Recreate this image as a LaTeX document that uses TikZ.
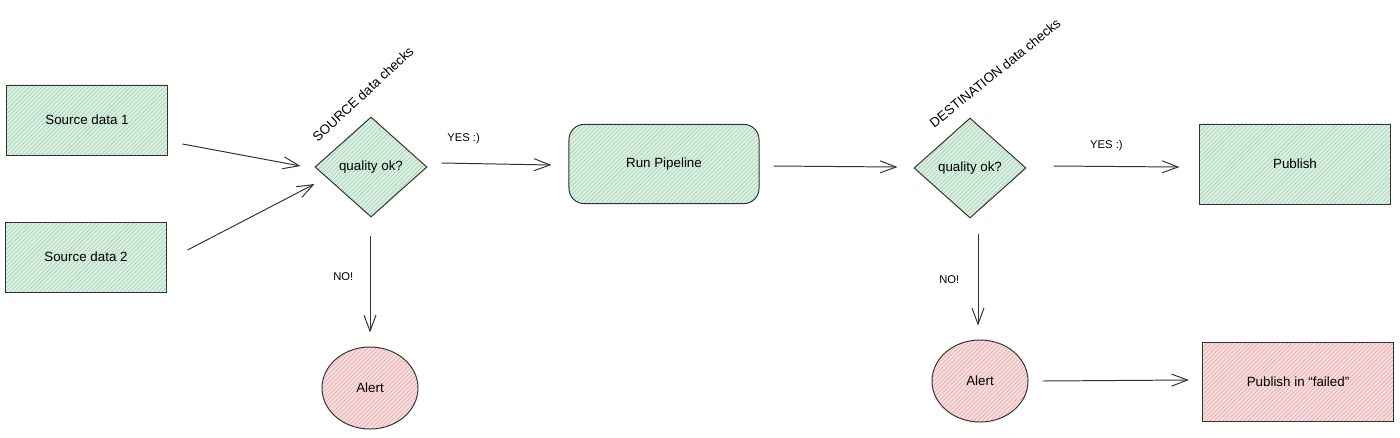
\documentclass[tikz,border=0pt]{standalone}
\usepackage{fontspec}
\setmainfont{Liberation Sans}
\usepackage{xcolor}
\usepackage{tikz}
\usetikzlibrary{arrows.meta,positioning,calc,shapes.geometric,patterns}

\definecolor{okfill}{HTML}{DCEFE3}
\definecolor{okline}{HTML}{A3D3B3}
\definecolor{badfill}{HTML}{F7DEDE}
\definecolor{badline}{HTML}{E9A8A8}

\begin{document}
\begin{tikzpicture}[x=0.025cm,y=-0.025cm,
  okbox/.style={rectangle,draw=black!80,line width=0.7pt,
    preaction={fill=okfill},
    preaction={pattern=north east lines,pattern color=okline},
    minimum width=4cm,minimum height=1.75cm,font=\fontsize{9.5}{11}\selectfont},
  badbox/.style={rectangle,draw=black!80,line width=0.7pt,
    preaction={fill=badfill},
    preaction={pattern=north east lines,pattern color=badline},
    minimum width=4cm,minimum height=1.75cm,font=\fontsize{9.5}{11}\selectfont},
  check/.style={okbox,diamond,inner sep=0pt,minimum width=2.8cm,minimum height=2.5cm},
  alertnode/.style={badbox,ellipse,minimum width=2.4cm,minimum height=2.05cm},
  flow/.style={-{Straight Barb[length=4mm,width=3mm]},line width=0.7pt,draw=black!80},
  lab/.style={font=\fontsize{8}{10}\selectfont,inner sep=1pt},
  tilt/.style={font=\fontsize{9.5}{11}\selectfont,inner sep=0pt}]
  \useasboundingbox (0,0) rectangle (1400,437);

  % sources
  \node[okbox] (src1) at (87,120) {Source data 1};
  \node[okbox] (src2) at (86,257) {Source data 2};

  % checks on the source side
  \node[check] (qsrc) at (371,167) {quality ok?};
  \node[tilt,rotate=43] (srclab) at (363,94) {SOURCE data checks};
  \node[alertnode] (alsrc) at (370,388) {Alert};

  % pipeline
  \node[okbox,rounded corners=0.38cm,minimum width=4.75cm,minimum height=1.98cm] (run) at (664,164) {Run Pipeline};

  % checks on the destination side
  \node[check] (qdst) at (970,168) {quality ok?};
  \node[tilt,rotate=39] (dstlab) at (995,73) {DESTINATION data checks};
  \node[alertnode] (aldst) at (980,381) {Alert};

  % outputs
  \node[okbox,minimum width=4.75cm,minimum height=2cm] (pub) at (1295,164) {Publish};
  \node[badbox,minimum width=4.78cm,minimum height=1.98cm] (pubfail) at (1298,382) {Publish in ``failed''};

  \draw[flow] ($(src1.east)+(15,24)$) -- ($(qsrc.west)+(-14,-1)$);
  \draw[flow] ($(src2.east)+(21,-7)$) -- ($(qsrc.west)+(0,17)$);
  \draw[flow] ($(qsrc.east)+(14,-4)$) -- node[lab,pos=0.2,above=4.5mm] {YES :)} ($(run.west)+(-17,1)$);
  \draw[flow] ($(qsrc.south)+(-1,18)$) -- node[lab,pos=0.42,left=3.7mm] {NO!} ($(alsrc.north)+(0,-14)$);
  \draw[flow] ($(run.east)+(14,2)$) -- ($(qdst.west)+(-16,-1)$);
  \draw[flow] ($(qdst.east)+(27,-2)$) -- node[lab,pos=0.42,above=3.5mm] {YES :)} ($(pub.west)+(-20,3)$);
  \draw[flow] ($(qdst.south)+(8,15)$) -- node[lab,pos=0.5,left=4.2mm] {NO!} ($(aldst.north)+(-2,-14)$);
  \draw[flow] ($(aldst.east)+(14,0)$) -- ($(pubfail.west)+(-13,-2)$);
\end{tikzpicture}
\end{document}
